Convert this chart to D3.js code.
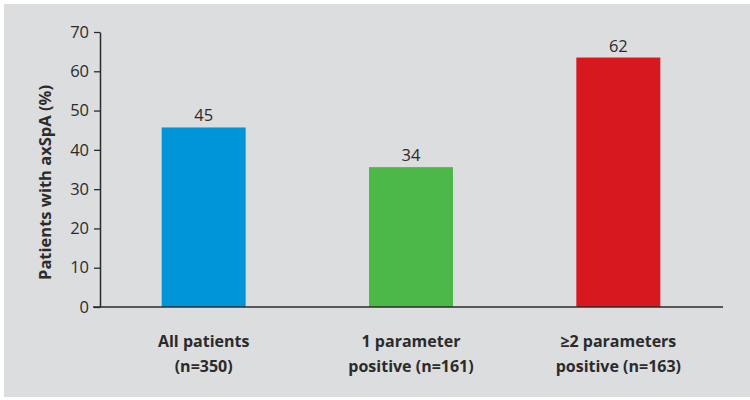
<!DOCTYPE html>
<html>
<head>
<meta charset="utf-8">
<script src="https://cdn.jsdelivr.net/npm/d3@7"></script>
<style>
  html, body { margin: 0; padding: 0; background: #ffffff; }
  svg { display: block; }
  text { font-family: "Open Sans", "Liberation Sans", sans-serif; }
</style>
</head>
<body>
<svg id="chart" width="750" height="400"></svg>
<script>
// ---- data ----
const categories = ["All patients", "1 parameter positive", "≥2 parameters positive"];
const categoryLine1 = ["All patients", "1 parameter", "≥2 parameters"];
const categoryLine2 = ["(n=350)", "positive (n=161)", "positive (n=163)"];
const values = [45.7, 35.6, 63.5];
const valueLabels = ["45", "34", "62"];
const barColors = ["#0095d8", "#4cb848", "#d7181f"];
const yTicks = [0, 10, 20, 30, 40, 50, 60, 70];
const yTitle = "Patients with axSpA (%)";

// ---- layout ----
const svg = d3.select("#chart");
svg.append("rect").attr("x", 4).attr("y", 4).attr("width", 746).attr("height", 393).attr("fill", "#dcdddf");

const margin = { left: 100, right: 722, top: 32, bottom: 307 };
const x = d3.scaleBand().domain(categories).range([margin.left, margin.right]).paddingInner(0.595).paddingOuter(0.2975);
const y = d3.scaleLinear().domain([0, 70]).range([margin.bottom, margin.top]);

// bars
svg.selectAll("rect.bar").data(values).enter().append("rect")
  .attr("class", "bar")
  .attr("x", (d, i) => x(categories[i]))
  .attr("width", x.bandwidth())
  .attr("y", d => y(d))
  .attr("height", d => y(0) - y(d))
  .attr("fill", (d, i) => barColors[i]);

// value labels
svg.selectAll("text.val").data(values).enter().append("text")
  .attr("class", "val")
  .attr("x", (d, i) => x(categories[i]) + x.bandwidth() / 2)
  .attr("y", d => y(d) - 6)
  .attr("text-anchor", "middle")
  .attr("font-size", 16.5)
  .attr("fill", "#2b2b2b")
  .text((d, i) => valueLabels[i]);

// y axis
const yAxis = d3.axisLeft(y).tickValues(yTicks).tickSize(6).tickSizeOuter(0).tickPadding(5);
const gy = svg.append("g").attr("transform", `translate(${margin.left},0)`).call(yAxis);
gy.select(".domain").attr("stroke", "#2b2b2b").attr("stroke-width", 1.5);
gy.selectAll(".tick line").attr("stroke", "#2b2b2b").attr("stroke-width", 1.3);
gy.selectAll(".tick text").attr("font-size", 16.5).attr("fill", "#2b2b2b")
  .attr("font-family", '"Open Sans", sans-serif');

// x baseline
svg.append("line")
  .attr("x1", margin.left - 7).attr("x2", margin.right + 1)
  .attr("y1", y(0)).attr("y2", y(0))
  .attr("stroke", "#2b2b2b").attr("stroke-width", 1.5);

// category labels
const cl = svg.selectAll("text.cat").data(categories).enter().append("text")
  .attr("class", "cat")
  .attr("text-anchor", "middle")
  .attr("font-size", 16)
  .attr("font-weight", 700)
  .attr("fill", "#2b2b2b");
cl.append("tspan").attr("x", d => x(d) + x.bandwidth() / 2).attr("y", 347).text((d, i) => categoryLine1[i]);
cl.append("tspan").attr("x", d => x(d) + x.bandwidth() / 2).attr("y", 372).text((d, i) => categoryLine2[i]);

// y title
svg.append("text")
  .attr("transform", `translate(51, ${(y(0) + y(70)) / 2 + 13}) rotate(-90)`)
  .attr("text-anchor", "middle")
  .attr("font-size", 16.5)
  .attr("font-weight", 700)
  .attr("fill", "#2b2b2b")
  .text(yTitle);
</script>
</body>
</html>
